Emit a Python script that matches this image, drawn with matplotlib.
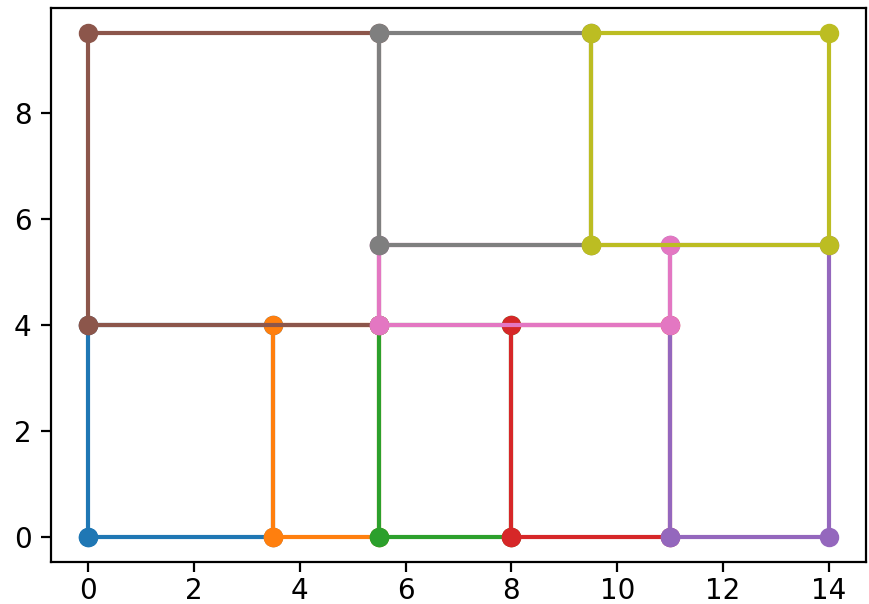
import matplotlib
matplotlib.use("Agg")
import matplotlib.pyplot as plt

# rectangles as (x, y, width, height), drawn in this order
rect_x = [0, 3.5, 5.5, 8, 11, 0, 5.5, 5.5, 9.5]
rect_y = [0, 0, 0, 0, 0, 4, 4, 5.5, 5.5]
rect_w = [3.5, 2, 2.5, 3, 3, 5.5, 5.5, 4, 4.5]
rect_h = [4, 4, 4, 4, 5.5, 5.5, 1.5, 4, 4]

fig = plt.figure(figsize=(4.345, 3.02), dpi=200)
ax = fig.add_axes([0.0587, 0.0695, 0.9378, 0.9173])

for x, y, w, h in zip(rect_x, rect_y, rect_w, rect_h):
    xs = [x, x + w, x + w, x, x]
    ys = [y, y, y + h, y + h, y]
    ax.plot(xs, ys, marker='o')

ax.tick_params(axis='x', pad=2)

plt.savefig("out.png", dpi=200)
